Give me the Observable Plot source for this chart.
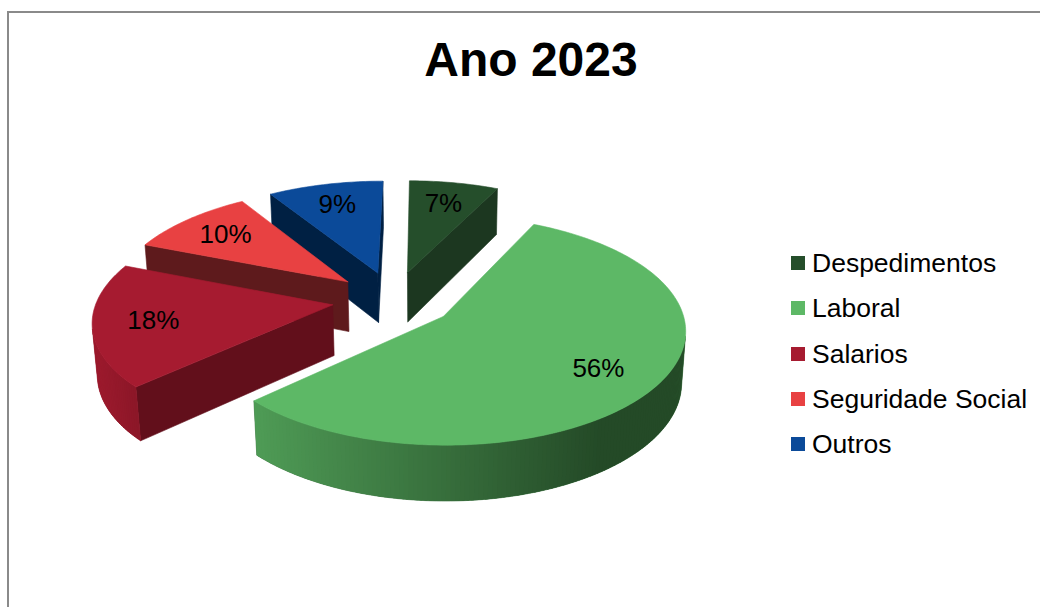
<!DOCTYPE html>
<html><head><meta charset="utf-8">
<script src="https://cdn.jsdelivr.net/npm/d3@7"></script>
<script src="https://cdn.jsdelivr.net/npm/@observablehq/plot@0.6"></script>
<style>
html,body{margin:0;padding:0;background:#fff;overflow:hidden;}
#wrap{position:relative;width:1040px;height:607px;overflow:hidden;font-family:"Liberation Sans",Arial,sans-serif;color:#000;}
#border{position:absolute;left:7px;top:11px;width:1200px;height:800px;border:2px solid #8a8a8a;box-sizing:border-box;}
#chart{position:absolute;left:0;top:0;}
#title{position:absolute;left:0;width:1062px;top:36px;line-height:48px;font-size:48px;font-weight:bold;text-align:center;white-space:nowrap;}
.lg{position:absolute;left:791px;height:30px;line-height:30px;display:flex;align-items:center;font-size:26.5px;white-space:nowrap;}
.lg span.sw{display:inline-block;width:14px;height:14px;margin-right:7px;}
</style></head><body>
<div id="wrap"><div id="chart"></div><div id="border"></div><div id="title"></div><div id="legend"></div></div>
<script>
// ---- data ----
const title = "Ano 2023";
const categories = ["Despedimentos", "Laboral", "Salarios", "Seguridade Social", "Outros"];
const values = [7, 56, 18, 10, 9];
const labels = ["7%", "56%", "18%", "10%", "9%"];

// ---- styles ----
const topColors    = ["#254E2B", "#5DB866", "#A61B30", "#E84142", "#0B4A99"];
const radialColors = ["#1C3720", "#2E5C33", "#620F1B", "#5E1A1C", "#002043"];
const outerLight   = ["#1E3D22", "#4F9C56", "#9C1A2D", "#B83334", "#083A78"];
const outerDark    = ["#1A3520", "#244A27", "#8A1627", "#A02A2B", "#062F61"];

// ---- 3D view (perspective) ----
const W = 1040, H = 607;
const px0 = 426, cy = 299, F = 1745, D = 7.4, bx = -0.14;
const phi = 27.5 * Math.PI / 180, cphi = Math.cos(phi), sphi = Math.sin(phi);
const explode = 0.26, thick = 0.245;
function proj(w) {
  const [X, Y, Z] = w;
  const d = D + Z * cphi - Y * sphi;
  return {x: px0 + F * (X + bx) / d, y: cy - F * (Y * cphi + Z * sphi) / d};
}
const cam = {x: -bx, z: -D * cphi};
const facing = (w, nx, nz) => (cam.x - w[0]) * nx + (cam.z - w[2]) * nz > 0;

const arcs = d3.pie().sort(null).value(d => d)(values);
const slices = arcs.map((a, i) => {
  const m = (a.startAngle + a.endAngle) / 2;
  return {i, a0: a.startAngle, a1: a.endAngle, m, ox: explode * Math.sin(m), oz: explode * Math.cos(m)};
});
// painter's order: farthest first
const order = slices.slice().sort((p, q) => q.oz - p.oz);

const faces = [];
const labelData = [];
for (const s of order) {
  const {i, a0, a1, ox, oz} = s;
  const W3 = (r, th, Y) => [ox + r * Math.sin(th), Y, oz + r * Math.cos(th)];
  const apexT = [ox, 0, oz], apexB = [ox, -thick, oz];
  const close = pts => pts.concat([pts[0]]);
  // radial faces
  if (facing(apexT, -Math.cos(a0), Math.sin(a0)))
    faces.push({fill: radialColors[i], sw: 0.6, pts: close([apexT, W3(1, a0, 0), W3(1, a0, -thick), apexB].map(proj))});
  if (facing(apexT, Math.cos(a1), -Math.sin(a1)))
    faces.push({fill: radialColors[i], sw: 0.6, pts: close([apexT, W3(1, a1, 0), W3(1, a1, -thick), apexB].map(proj))});
  // outer curved side
  const n = Math.max(2, Math.ceil((a1 - a0) / (Math.PI / 180)));
  const step = (a1 - a0) / n;
  const mix = d3.interpolateRgb(outerLight[i], outerDark[i]);
  const shade = sx => i === 1 ? Math.max(0, Math.min(1, (sx - 250) / 350)) : Math.max(0, Math.min(1, (sx - 95) / 45));
  const vis = [];
  for (let k = 0; k < n; k++) {
    const tm = a0 + step * (k + 0.5);
    if (facing(W3(1, tm, 0), Math.sin(tm), Math.cos(tm))) vis.push(k);
  }
  if (vis.length) {
    const k0 = vis[0], k1 = vis[vis.length - 1] + 1;
    const topArc = [], botArc = [];
    for (let k = k0; k <= k1; k++) {
      topArc.push(W3(1, a0 + step * k, 0));
      botArc.push(W3(1, a0 + step * k, -thick));
    }
    faces.push({fill: mix(0.5), sw: 0.6, pts: close(topArc.concat(botArc.reverse()).map(proj))});
    for (const k of vis) {
      const t0 = a0 + step * k, t1 = Math.min(a0 + step * (k + 1.6), a0 + step * k1), tm = a0 + step * (k + 0.5);
      const pts = [W3(1, t0, 0), W3(1, t1, 0), W3(1, t1, -thick), W3(1, t0, -thick)].map(proj);
      faces.push({fill: mix(shade(proj(W3(1, tm, 0)).x)), sw: 0, pts: close(pts)});
    }
  }
  // top face
  const top = [apexT];
  for (let k = 0; k <= n; k++) top.push(W3(1, a0 + step * k, 0));
  faces.push({fill: topColors[i], sw: 0.6, pts: close(top.map(proj))});
  const lp = proj(W3(0.75, s.m, 0));
  labelData.push({x: lp.x, y: lp.y, label: labels[i]});
}

const marks = faces.map(f => Plot.line(f.pts, {x: "x", y: "y", fill: f.fill, stroke: f.sw ? f.fill : "none", strokeWidth: f.sw, strokeLinejoin: "round"}));
marks.push(Plot.text(labelData, {x: "x", y: "y", text: "label", fontSize: 26, fontFamily: "Liberation Sans, Arial, sans-serif", fill: "#000"}));

const plot = Plot.plot({
  width: W, height: H, margin: 0,
  x: {domain: [0, W], range: [0, W], axis: null},
  y: {domain: [0, H], range: [0, H], axis: null},
  style: {background: "transparent"},
  marks
});
document.getElementById("chart").appendChild(plot);

document.getElementById("title").textContent = title;
const lg = document.getElementById("legend");
categories.forEach((c, i) => {
  const row = document.createElement("div");
  row.className = "lg";
  row.style.top = (263 + 45.3 * i - 15) + "px";
  const sw = document.createElement("span");
  sw.className = "sw";
  sw.style.background = topColors[i];
  row.appendChild(sw);
  row.appendChild(document.createTextNode(c));
  lg.appendChild(row);
});
</script>
</body></html>
